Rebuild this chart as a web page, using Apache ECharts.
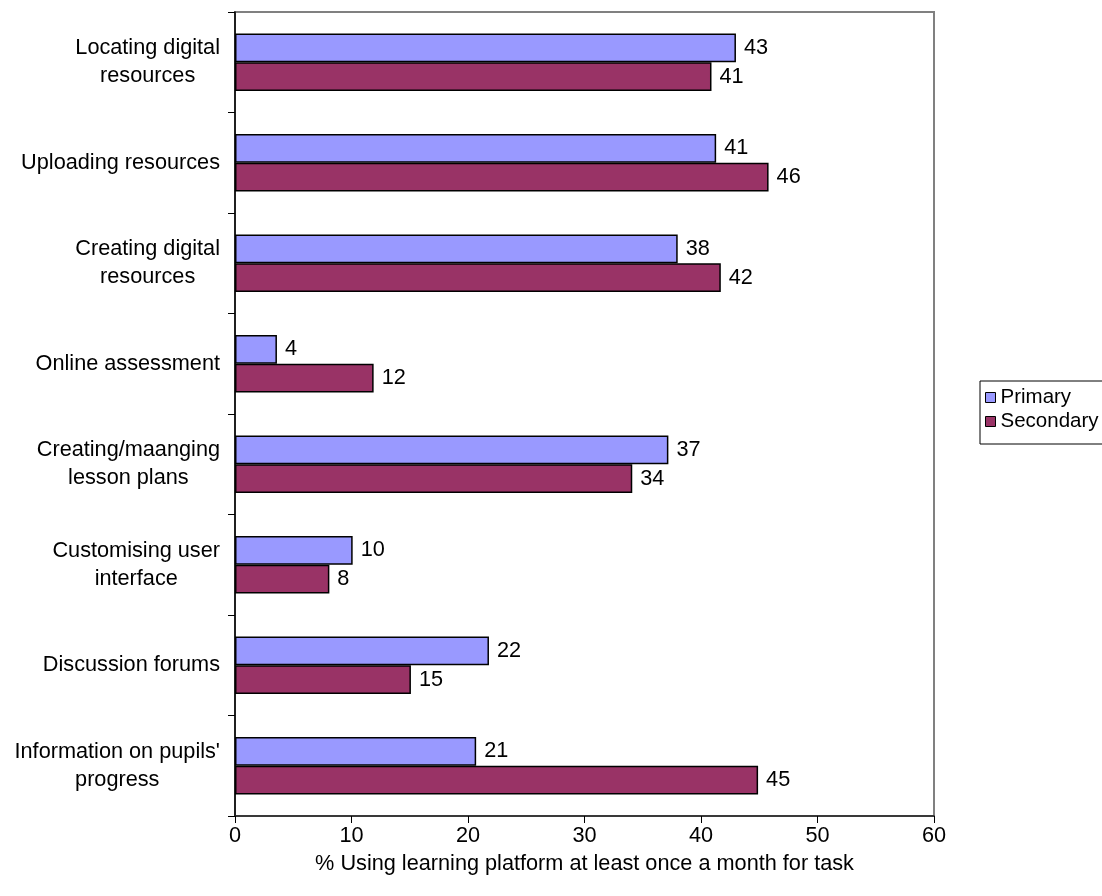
<!DOCTYPE html>
<html>
<head>
<meta charset="utf-8">
<script src="https://cdn.jsdelivr.net/npm/echarts@6/dist/echarts.min.js"></script>
<style>
html,body{margin:0;padding:0;background:#fff;}
#chart{width:1102px;height:896px;}
</style>
</head>
<body>
<div id="chart"></div>
<script>
const categories = [
  "Locating digital\nresources",
  "Uploading resources",
  "Creating digital\nresources",
  "Online assessment",
  "Creating/maanging\nlesson plans",
  "Customising user\ninterface",
  "Discussion forums",
  "Information on pupils'\nprogress"
];
const primaryValues = [43.0, 41.3, 38.0, 3.6, 37.2, 10.1, 21.8, 20.7];
const secondaryValues = [40.9, 45.8, 41.7, 11.9, 34.1, 8.1, 15.1, 44.9];
const xTicks = [0, 10, 20, 30, 40, 50, 60];
const axisTitle = "% Using learning platform at least once a month for task";

const FONT = "'Liberation Sans', Arial, sans-serif";
const FS = 21.7;

const chart = echarts.init(document.getElementById('chart'), null, {renderer: 'canvas'});

function barSeries(name, data, color) {
  return {
    name: name,
    type: 'bar',
    data: data,
    barGap: '0%',
    barCategoryGap: '43%',
    itemStyle: {color: color, borderColor: '#000', borderWidth: 1.5},
    label: {
      show: true,
      position: 'right',
      distance: 8,
      color: '#000',
      fontFamily: FONT,
      fontSize: FS,
      formatter: p => String(Math.round(p.value))
    },
    animation: false
  };
}

chart.setOption({
  backgroundColor: '#fff',
  animation: false,
  grid: {
    left: 235, right: 168, top: 12, bottom: 80,
    show: true, borderColor: '#808080', borderWidth: 2, backgroundColor: 'transparent'
  },
  legend: {
    orient: 'vertical',
    left: 980,
    top: 381,
    itemWidth: 10,
    itemHeight: 10,
    itemGap: 3,
    padding: [6, 8, 12, 5],
    borderColor: '#000',
    borderWidth: 1,
    icon: 'rect',
    textStyle: {fontFamily: FONT, fontSize: 20.5, color: '#000'},
    itemStyle: {borderColor: '#000', borderWidth: 1},
    data: ['Primary', 'Secondary']
  },
  xAxis: {
    type: 'value',
    min: xTicks[0],
    max: xTicks[xTicks.length - 1],
    interval: xTicks[1] - xTicks[0],
    splitLine: {show: false},
    axisLine: {show: true, lineStyle: {color: '#222', width: 1.5}},
    axisTick: {show: true, length: 7, lineStyle: {color: '#000', width: 1}},
    axisLabel: {fontFamily: FONT, fontSize: FS, color: '#000', margin: 9},
    name: axisTitle,
    nameLocation: 'middle',
    nameGap: 37,
    nameTextStyle: {fontFamily: FONT, fontSize: FS, color: '#000'}
  },
  yAxis: {
    type: 'category',
    data: categories,
    inverse: true,
    axisLine: {show: true, lineStyle: {color: '#000', width: 1.5}},
    axisTick: {show: true, length: 7, inside: false, lineStyle: {color: '#000', width: 1}},
    splitLine: {show: false},
    axisLabel: {
      margin: 15,
      fontFamily: FONT,
      fontSize: FS,
      color: '#000',
      lineHeight: 28,
      formatter: v => v.split('\n').map(s => '{c|' + s + '}').join('\n'),
      rich: {c: {align: 'center', fontFamily: FONT, fontSize: FS, color: '#000', lineHeight: 28}}
    }
  },
  series: [
    barSeries('Primary', primaryValues, '#9999FF'),
    barSeries('Secondary', secondaryValues, '#993366')
  ]
});
</script>
</body>
</html>
